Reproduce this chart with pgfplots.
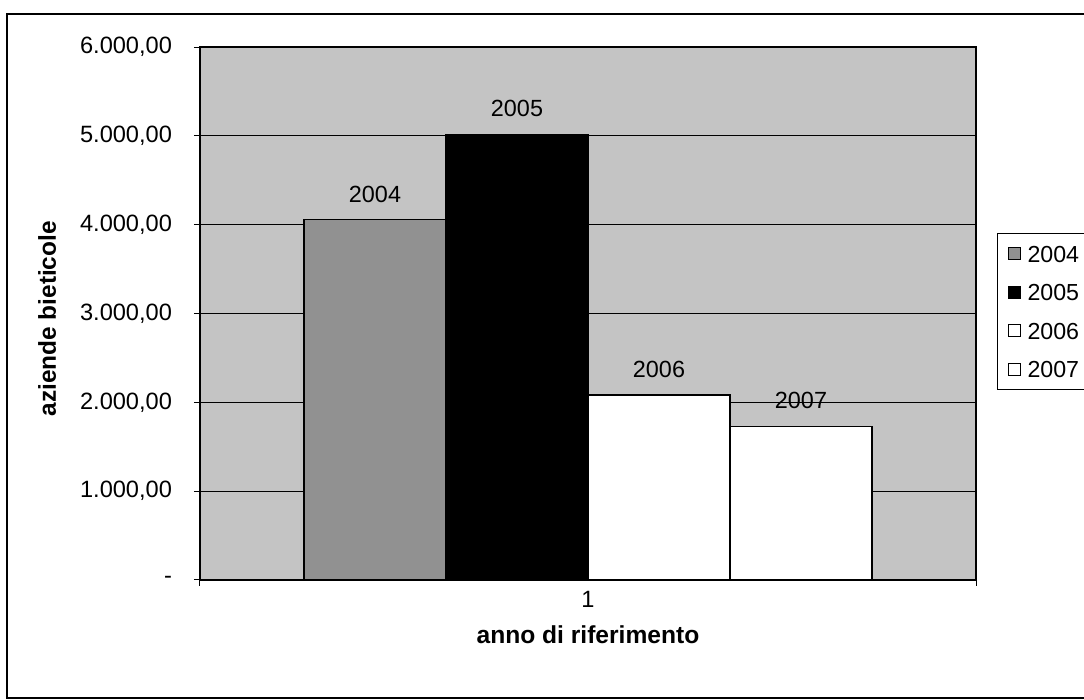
\documentclass[border=0pt]{standalone}
\usepackage{fontspec}
\setmainfont{Liberation Sans}
\usepackage{pgfplots}
\pgfplotsset{compat=1.18}
\definecolor{bg}{gray}{0.77}
\definecolor{c2004}{gray}{0.57}
\begin{document}
\begin{tikzpicture}
\useasboundingbox (0,0) rectangle (542pt,350pt);
\clip (0,0) rectangle (542pt,350pt);
\fill[white] (0,0) rectangle (542pt,350pt);
\draw[line width=0.9pt] (3.5pt,1pt) rectangle (560pt,343pt);
\begin{axis}[
  at={(100pt,60pt)}, anchor=south west,
  scale only axis, width=388pt, height=266.5pt,
  font=\fontsize{11.8}{14}\selectfont,
  ybar=0pt, bar width=71pt,
  xmin=0.5, xmax=1.5, ymin=0, ymax=6000,
  axis background/.style={fill=bg},
  ymajorgrids, grid style={black, line width=0.5pt},
  ytick={0,1000,...,6000},
  yticklabels={{-},{1.000,00},{2.000,00},{3.000,00},{4.000,00},{5.000,00},{6.000,00}},
  tick align=outside, major tick length=3pt, tick pos=left,
  yticklabel style={xshift=-7.5pt},
  xtick={0.5,1.5}, xticklabels={},
  extra x ticks={1}, extra x tick labels={1},
  extra x tick style={major tick length=0pt, xticklabel style={yshift=-2pt}},
  tick style={black, line width=0.5pt},
  axis line style={black, line width=0.7pt},
  xlabel={\bfseries anno di riferimento}, ylabel={\bfseries aziende bieticole},
  xlabel style={at={(axis description cs:0.5,-0.103)}, anchor=center, font=\fontsize{12.3}{14}\selectfont},
  ylabel style={at={(axis description cs:-0.197,0.49)}, anchor=center, font=\fontsize{12.2}{14}\selectfont},
  legend style={at={(axis description cs:1.027,0.651)}, anchor=north west,
    draw=black, fill=white, line width=0.5pt, inner xsep=2pt, inner ysep=3.9pt,
    row sep=6.75pt, column sep=1.5pt, nodes={text height=8.5pt, text depth=0pt, inner sep=2pt},
    font=\fontsize{11.6}{13.8}\selectfont},
  legend cell align=left,
  every node near coord/.append style={black, font=\fontsize{11.7}{14}\selectfont, yshift=5pt},
]
\addplot[fill=c2004, draw=black, line width=0.6pt, nodes near coords={2004},
  legend image code/.code={\path (0pt,0pt); \draw[fill=c2004, draw=black, line width=0.5pt] (3pt,-3pt) rectangle (9pt,3pt);}]
  coordinates {(1,4057)};
\addplot[fill=black, draw=black, line width=0.6pt, nodes near coords={2005},
  legend image code/.code={\path (0pt,0pt); \draw[fill=black, draw=black, line width=0.5pt] (3pt,-3pt) rectangle (9pt,3pt);}]
  coordinates {(1,5019)};
\addplot[fill=white, draw=black, line width=0.6pt, nodes near coords={2006},
  legend image code/.code={\path (0pt,0pt); \draw[fill=white, draw=black, line width=0.5pt] (3pt,-3pt) rectangle (9pt,3pt);}]
  coordinates {(1,2083)};
\addplot[fill=white, draw=black, line width=0.6pt, nodes near coords={2007},
  legend image code/.code={\path (0pt,0pt); \draw[fill=white, draw=black, line width=0.5pt] (3pt,-3pt) rectangle (9pt,3pt);}]
  coordinates {(1,1730)};
\legend{2004,2005,2006,2007}
\end{axis}
\end{tikzpicture}
\end{document}
